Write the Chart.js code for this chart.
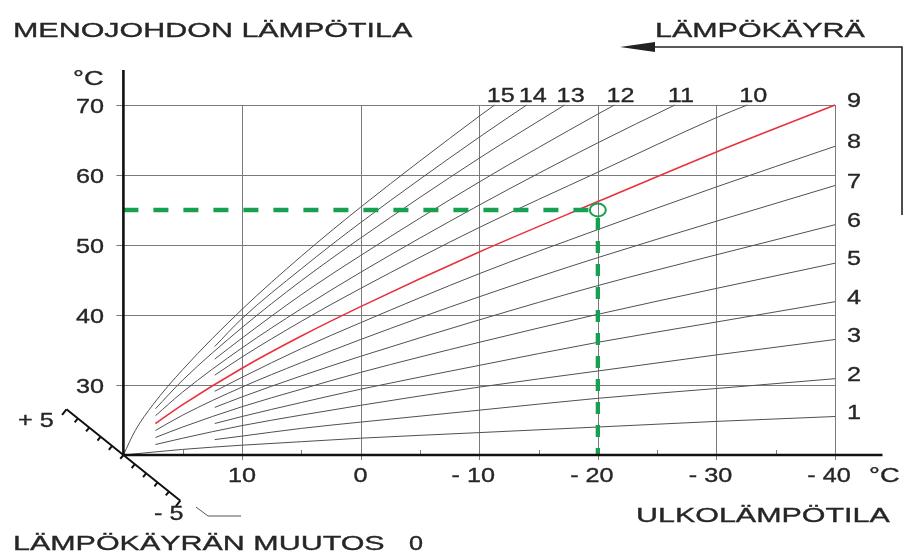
<!DOCTYPE html>
<html>
<head>
<meta charset="utf-8">
<script src="https://cdn.jsdelivr.net/npm/chart.js@4.4.1/dist/chart.umd.min.js"></script>
<style>
  html, body { margin: 0; background: #fff; }
  canvas { display: block; }
</style>
</head>
<body>
<canvas id="lampokayra" width="903" height="554"></canvas>
<script>
// heating curves: [outdoor °C, supply water °C]
const curve1 = [[20, 20], [15, 20.8], [10, 21.4], [5, 21.9], [0, 22.4], [-10, 23.2], [-20, 24.0], [-30, 24.8], [-40, 25.5]];
const curve2 = [[12.3, 22.2], [10, 22.7], [5, 23.8], [0, 24.7], [-10, 26.4], [-20, 28.1], [-30, 29.5], [-40, 30.9]];
const curve3 = [[17.3, 21.5], [15, 22.4], [10, 24.2], [5, 25.7], [0, 27.1], [-10, 29.7], [-20, 32.0], [-30, 34.3], [-40, 36.5]];
const curve4 = [[12.3, 24.5], [10, 25.5], [5, 27.5], [0, 29.4], [-10, 32.8], [-20, 36.1], [-30, 39.0], [-40, 41.9]];
const curve5 = [[17.3, 22.5], [15, 24.0], [10, 26.9], [5, 29.4], [0, 31.8], [-10, 36.1], [-20, 40.1], [-30, 43.8], [-40, 47.4]];
const curve6 = [[12.3, 26.8], [10, 28.3], [5, 31.3], [0, 34.1], [-10, 39.3], [-20, 44.2], [-30, 48.6], [-40, 52.9]];
const curve7 = [[17.3, 23.5], [15, 25.7], [10, 29.7], [5, 33.2], [0, 36.5], [-10, 42.6], [-20, 48.2], [-30, 53.4], [-40, 58.5]];
const curve8 = [[12.3, 29.1], [10, 31.1], [5, 35.2], [0, 38.9], [-10, 45.9], [-20, 52.2], [-30, 58.3], [-40, 64.1]];
const curve9 = [[17.3, 24.5], [15, 27.2], [10, 32.4], [5, 37.0], [0, 41.2], [-10, 49.0], [-20, 56.2], [-30, 63.3], [-40, 70]];
const curve10 = [[12.3, 31.4], [10, 34.0], [5, 39.1], [0, 43.8], [-10, 52.5], [-20, 60.4], [-30, 68.2], [-32.6, 70]];
const curve11 = [[17.3, 25.6], [15, 29.0], [10, 35.3], [5, 40.9], [0, 46.1], [-10, 55.7], [-20, 64.6], [-26.5, 70]];
const curve12 = [[12.3, 33.7], [10, 36.7], [5, 42.9], [0, 48.5], [-10, 59.0], [-20, 68.7], [-21.4, 70]];
const curve13 = [[17.3, 26.6], [15, 30.7], [10, 38.2], [5, 44.9], [0, 51.0], [-10, 62.4], [-17.2, 70]];
const curve14 = [[12.3, 35.5], [10, 39.5], [5, 46.6], [0, 53.2], [-10, 65.4], [-14.0, 70]];
const curve15 = [[20, 20], [19, 23.5], [17.5, 27.2], [15, 32.2], [10, 40.8], [5, 48.4], [0, 55.4], [-10, 68.4], [-11.3, 70]];

const curves = [curve1, curve2, curve3, curve4, curve5, curve6, curve7, curve8,
  curve9, curve10, curve11, curve12, curve13, curve14, curve15];
const curveLabels = ['1', '2', '3', '4', '5', '6', '7', '8', '9', '10', '11', '12', '13', '14', '15'];
const selectedCurve = '9';

const flowTicks = [30, 40, 50, 60, 70];
const outdoorTicks = [10, 0, -10, -20, -30, -40];
const outdoorTickLabels = ['10', '0', '- 10', '- 20', '- 30', '- 40'];
const outdoorMinorTicks = [15, 5, -5, -15, -25, -35];

// chosen operating point: outdoor -20 °C -> supply 55 °C
const setOutdoor = -20;
const setFlow = 55;
const shiftRange = 5;

const INK = '#262626';
const GRID = '#7a7a7a';
const GREEN = '#18a052';
const FONT = '21px "Liberation Sans", Arial, sans-serif';
const WIDE = 1.45;   // horizontal stretch for words
const DIGITS = 1.2;  // and for numbers

// text drawn with a horizontal stretch, aligned by hand
function text(ctx, s, x, y, align, sx) {
  const k = sx || WIDE;
  const w = ctx.measureText(s).width * k;
  let left = x;
  if (align === 'right') left = x - w;
  else if (align === 'center') left = x - w / 2;
  ctx.save();
  ctx.translate(left, y);
  ctx.scale(k, 1);
  ctx.textAlign = 'left';
  ctx.textBaseline = 'alphabetic';
  ctx.fillText(s, 0, 0);
  ctx.strokeText(s, 0, 0);
  ctx.restore();
}

const gridPlugin = {
  id: 'grid',
  beforeDatasetsDraw(chart) {
    const { ctx, scales: { x, y } } = chart;
    const x0 = x.getPixelForValue(20), x1 = x.getPixelForValue(-40);
    const y0 = y.getPixelForValue(20), y1 = y.getPixelForValue(70);
    ctx.save();
    ctx.strokeStyle = GRID;
    ctx.lineWidth = 1;
    ctx.beginPath();
    flowTicks.forEach(v => {
      const py = Math.round(y.getPixelForValue(v)) + 0.5;
      ctx.moveTo(x0 - 7, py);
      ctx.lineTo(x1, py);
    });
    outdoorTicks.forEach(v => {
      const px = Math.round(x.getPixelForValue(v)) + 0.5;
      ctx.moveTo(px, y1);
      ctx.lineTo(px, y0 + 5);
    });
    outdoorMinorTicks.forEach(v => {
      const px = Math.round(x.getPixelForValue(v)) + 0.5;
      ctx.moveTo(px, y0 - 5);
      ctx.lineTo(px, y0 + 1);
    });
    ctx.stroke();
    ctx.restore();
  },
  afterDatasetsDraw(chart) {
    const { ctx, scales: { x, y } } = chart;
    const ox = x.getPixelForValue(20), oy = y.getPixelForValue(20);
    ctx.save();

    // axes
    ctx.strokeStyle = '#111';
    ctx.lineWidth = 2.6;
    ctx.beginPath();
    ctx.moveTo(ox, y.getPixelForValue(y.max));
    ctx.lineTo(ox, oy);
    ctx.lineTo(x.getPixelForValue(x.min), oy);
    ctx.stroke();

    // heating curve shift scale through the origin
    const ux = 0.78, uy = 0.626;
    const step = 14.6;
    ctx.lineWidth = 2;
    ctx.beginPath();
    ctx.moveTo(ox - ux * step * shiftRange, oy - uy * step * shiftRange);
    ctx.lineTo(ox + ux * step * shiftRange, oy + uy * step * shiftRange);
    for (let i = -shiftRange; i <= shiftRange; i++) {
      const cx = ox + ux * step * i, cy = oy + uy * step * i;
      const len = Math.abs(i) === shiftRange ? 7 : 5;
      ctx.moveTo(cx, cy);
      ctx.lineTo(cx - uy * len, cy + ux * len);
    }
    ctx.stroke();

    // leader for the "- 5" mark
    ctx.lineWidth = 1;
    ctx.strokeStyle = '#555';
    ctx.beginPath();
    ctx.moveTo(196, 507);
    ctx.lineTo(208, 516);
    ctx.lineTo(241, 516);
    ctx.stroke();

    // set point marker
    ctx.strokeStyle = GREEN;
    ctx.lineWidth = 2;
    ctx.beginPath();
    ctx.ellipse(x.getPixelForValue(setOutdoor), y.getPixelForValue(setFlow), 8, 6.5, 0, 0, Math.PI * 2);
    ctx.stroke();

    // arrow towards the curve numbers
    ctx.strokeStyle = '#222';
    ctx.fillStyle = '#222';
    ctx.lineWidth = 1.6;
    ctx.beginPath();
    ctx.moveTo(650, 47);
    ctx.lineTo(902, 47);
    ctx.lineTo(902, 215);
    ctx.stroke();
    ctx.beginPath();
    ctx.moveTo(620, 47);
    ctx.lineTo(655, 42);
    ctx.lineTo(655, 52);
    ctx.closePath();
    ctx.fill();

    // texts
    ctx.fillStyle = INK;
    ctx.strokeStyle = INK;
    ctx.lineWidth = 0.35;
    ctx.font = FONT;
    text(ctx, 'MENOJOHDON LÄMPÖTILA', 13, 37);
    text(ctx, 'LÄMPÖKÄYRÄ', 655, 37);
    text(ctx, '°C', 73, 85, 'left', 1.3);
    flowTicks.forEach(v => text(ctx, String(v), 104, y.getPixelForValue(v) + 7.5, 'right', DIGITS));
    outdoorTicks.forEach((v, i) => {
      const label = outdoorTickLabels[i];
      const shift = label.startsWith('-') ? -6 : 0;
      text(ctx, label, x.getPixelForValue(v) + shift, oy + 27, 'center', DIGITS);
    });
    text(ctx, '°C', 869, oy + 27, 'left', 1.3);
    text(ctx, 'ULKOLÄMPÖTILA', 636, 522);
    text(ctx, 'LÄMPÖKÄYRÄN MUUTOS', 13, 550);
    text(ctx, '0', 409, 550, 'left', DIGITS);
    text(ctx, '+ 5', 18, 427, 'left', DIGITS);
    text(ctx, '- 5', 154, 520, 'left', DIGITS);

    // curve numbers at the end of each curve
    curves.forEach((c, i) => {
      const [tx, ty] = c[c.length - 1];
      const px = x.getPixelForValue(tx), py = y.getPixelForValue(ty);
      if (tx > -40) {
        text(ctx, curveLabels[i], px + 6, y.getPixelForValue(70) - 3, 'center', DIGITS);
      } else {
        text(ctx, curveLabels[i], x.getPixelForValue(-40) + 12, py + 2, 'left', DIGITS);
      }
    });
    ctx.restore();
  }
};

const curveSets = curves.map((c, i) => {
  const active = curveLabels[i] === selectedCurve;
  return {
    label: curveLabels[i],
    data: c.map(([tx, ty]) => ({ x: tx, y: ty })),
    borderColor: active ? '#e8323c' : '#505050',
    borderWidth: active ? 1.6 : 1,
    cubicInterpolationMode: 'monotone',
    order: active ? 1 : 2
  };
});

new Chart('lampokayra', {
  type: 'scatter',
  data: {
    datasets: [
      {
        label: 'setFlow',
        data: [{ x: 20, y: setFlow }, { x: setOutdoor, y: setFlow }],
        borderColor: GREEN,
        borderWidth: 4.3,
        borderDash: [15, 15],
        order: 0
      },
      {
        label: 'setOutdoor',
        data: [{ x: setOutdoor, y: setFlow }, { x: setOutdoor, y: 20 }],
        borderColor: GREEN,
        borderWidth: 4.3,
        borderDash: [12, 11],
        borderDashOffset: 15,
        order: 0
      },
      ...curveSets
    ]
  },
  options: {
    responsive: false,
    animation: false,
    devicePixelRatio: 1,
    showLine: true,
    elements: { point: { radius: 0 }, line: { borderCapStyle: 'butt' } },
    layout: { padding: { left: 123.4, right: 20.5, top: 70, bottom: 99 } },
    scales: {
      x: { type: 'linear', reverse: true, min: -44, max: 20, display: false },
      y: { type: 'linear', min: 20, max: 75, display: false }
    },
    plugins: { legend: { display: false }, tooltip: { enabled: false } }
  },
  plugins: [gridPlugin]
});
</script>
</body>
</html>
